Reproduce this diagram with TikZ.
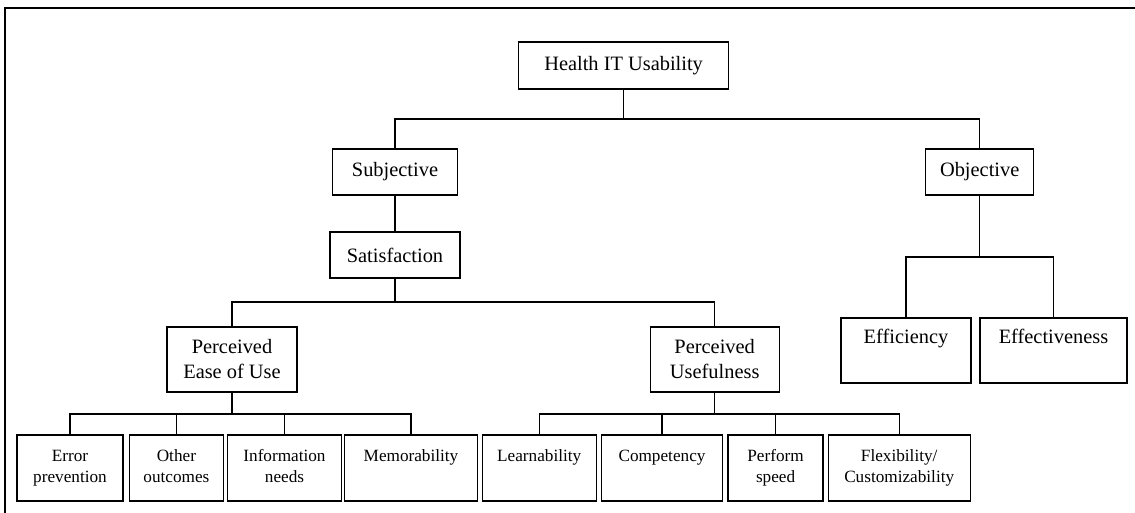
\documentclass[tikz,border=0pt]{standalone}
\usepackage{fontspec}
\setmainfont{Liberation Serif}
\begin{document}
\begin{tikzpicture}[x=0.5pt,y=-0.5pt,line join=miter,
	box/.style 2 args={draw,line width=0.7pt,inner sep=0pt,align=center,
		minimum width={#1*0.5pt},minimum height={#2*0.5pt},font=\fontsize{10.2}{12.5}\selectfont},
	leaf/.style={box={#1}{66},font=\fontsize{8.6}{10.5}\selectfont},
	link/.style={line width=0.7pt}]
	\useasboundingbox (0,0) rectangle (1135,513);
	\draw[line width=1pt] (1135,8)--(5,8)--(5,513);
	% upper levels
	\node[box={210}{47}] (hit) at (623.6,65.5) {Health IT Usability};
	\node[box={125}{46}] (sub) at (395,172) {Subjective};
	\node[box={108}{46}] (obj) at (979.7,172) {Objective};
	\node[box={130}{46}] (sat) at (395,255) {Satisfaction};
	\node[box={130}{65}] (peu) at (232,359.5) {Perceived\\Ease of Use};
	\node[box={129}{65}] (pu) at (714.7,359.5) {Perceived\\Usefulness};
	\node[box={130}{65}] (eff) at (906,350.5) {Efficiency\strut\\\strut};
	\node[box={147}{65}] (efv) at (1053.5,350.5) {Effectiveness\strut\\\strut};
	% leaves
	\node[leaf=106] (err) at (70,468) {Error\strut\\prevention\strut};
	\node[leaf=94] (oth) at (176.4,468) {Other\strut\\outcomes\strut};
	\node[leaf=114] (inf) at (284.5,468) {Information\strut\\needs\strut};
	\node[leaf=133] (mem) at (411,468) {Memorability\strut\\\strut};
	\node[leaf=114] (lrn) at (539.2,468) {Learnability\strut\\\strut};
	\node[leaf=121] (cmp) at (662,468) {Competency\strut\\\strut};
	\node[leaf=95] (prf) at (775.6,468) {Perform\strut\\speed\strut};
	\node[leaf=142] (flx) at (899.2,468) {Flexibility/\strut\\Customizability\strut};
	% connectors
	\coordinate (top) at (623.6,119);
	\coordinate (mid) at (395,302);
	\coordinate (obus) at (979.7,257);
	\coordinate (ebus) at (232,414);
	\coordinate (ubus) at (714.7,414);
	\draw[link] (hit.south)--(top);
	\draw[link] (sub.north) |- (top) -| (obj.north);
	\draw[link] (sub)--(sat);
	\draw[link] (sat.south)--(mid);
	\draw[link] (peu.north) |- (mid) -| (pu.north);
	\draw[link] (obj.south)--(obus);
	\draw[link] (eff.north) |- (obus) -| (efv.north);
	\draw[link] (peu.south)--(ebus);
	\draw[link] (err.north) |- (ebus) -| (mem.north);
	\foreach \n in {oth,inf} \draw[link] (\n.north)--(\n.north |- ebus);
	\draw[link] (pu.south)--(ubus);
	\draw[link] (lrn.north) |- (ubus) -| (flx.north);
	\foreach \n in {cmp,prf} \draw[link] (\n.north)--(\n.north |- ubus);
\end{tikzpicture}
\end{document}
